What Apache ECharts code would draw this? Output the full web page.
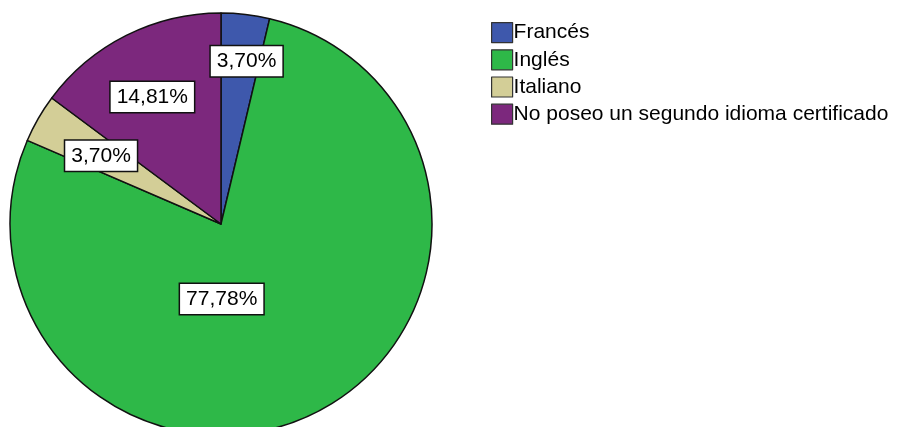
<!DOCTYPE html>
<html>
<head>
<meta charset="utf-8">
<script src="https://cdn.jsdelivr.net/npm/echarts@6/dist/echarts.min.js"></script>
<style>
  html, body { margin: 0; padding: 0; background: #fff; }
  #chart { width: 902px; height: 427px; }
</style>
</head>
<body>
<div id="chart"></div>
<script>
// datos
var categorias = ['Francés', 'Inglés', 'Italiano', 'No poseo un segundo idioma certificado'];
var valores = [1, 21, 1, 4];
var colores = ['#3e58ac', '#2eb848', '#d3ce97', '#7c287d'];

// desplazamiento de cada etiqueta desde su posición "inside"
var desplazamientos = [[13, -55], [-48, -22], [-26, -14], [-20, -30]];

var total = valores.reduce(function (a, b) { return a + b; }, 0);

var chart = echarts.init(document.getElementById('chart'));

var datos = categorias.map(function (c, i) {
    return {
        name: c,
        value: valores[i],
        itemStyle: { color: colores[i] },
        label: { offset: desplazamientos[i] }
    };
});

var option = {
    animation: false,
    legend: {
        orient: 'vertical',
        left: 486,
        top: 17,
        itemWidth: 21,
        itemHeight: 20,
        itemGap: 6,
        icon: 'rect',
        itemStyle: { borderColor: '#333', borderWidth: 1.2 },
        textStyle: {
            fontFamily: 'Liberation Sans, Arial, sans-serif',
            fontSize: 21,
            color: '#000',
            padding: [0, 0, 0, -4]
        },
        data: categorias
    },
    series: [{
        type: 'pie',
        center: [221, 224],
        radius: 211,
        startAngle: 90,
        clockwise: true,
        avoidLabelOverlap: false,
        itemStyle: { borderColor: '#111', borderWidth: 1.5 },
        labelLine: { show: false },
        label: {
            show: true,
            position: 'inside',
            formatter: function (p) {
                return (p.value / total * 100).toFixed(2).replace('.', ',') + '%';
            },
            fontFamily: 'Liberation Sans, Arial, sans-serif',
            fontSize: 21,
            color: '#000',
            backgroundColor: '#fff',
            borderColor: '#111',
            borderWidth: 1.5,
            padding: [5, 6, 4, 6]
        },
        emphasis: { disabled: true },
        data: datos
    }]
};

chart.setOption(option);
</script>
</body>
</html>
